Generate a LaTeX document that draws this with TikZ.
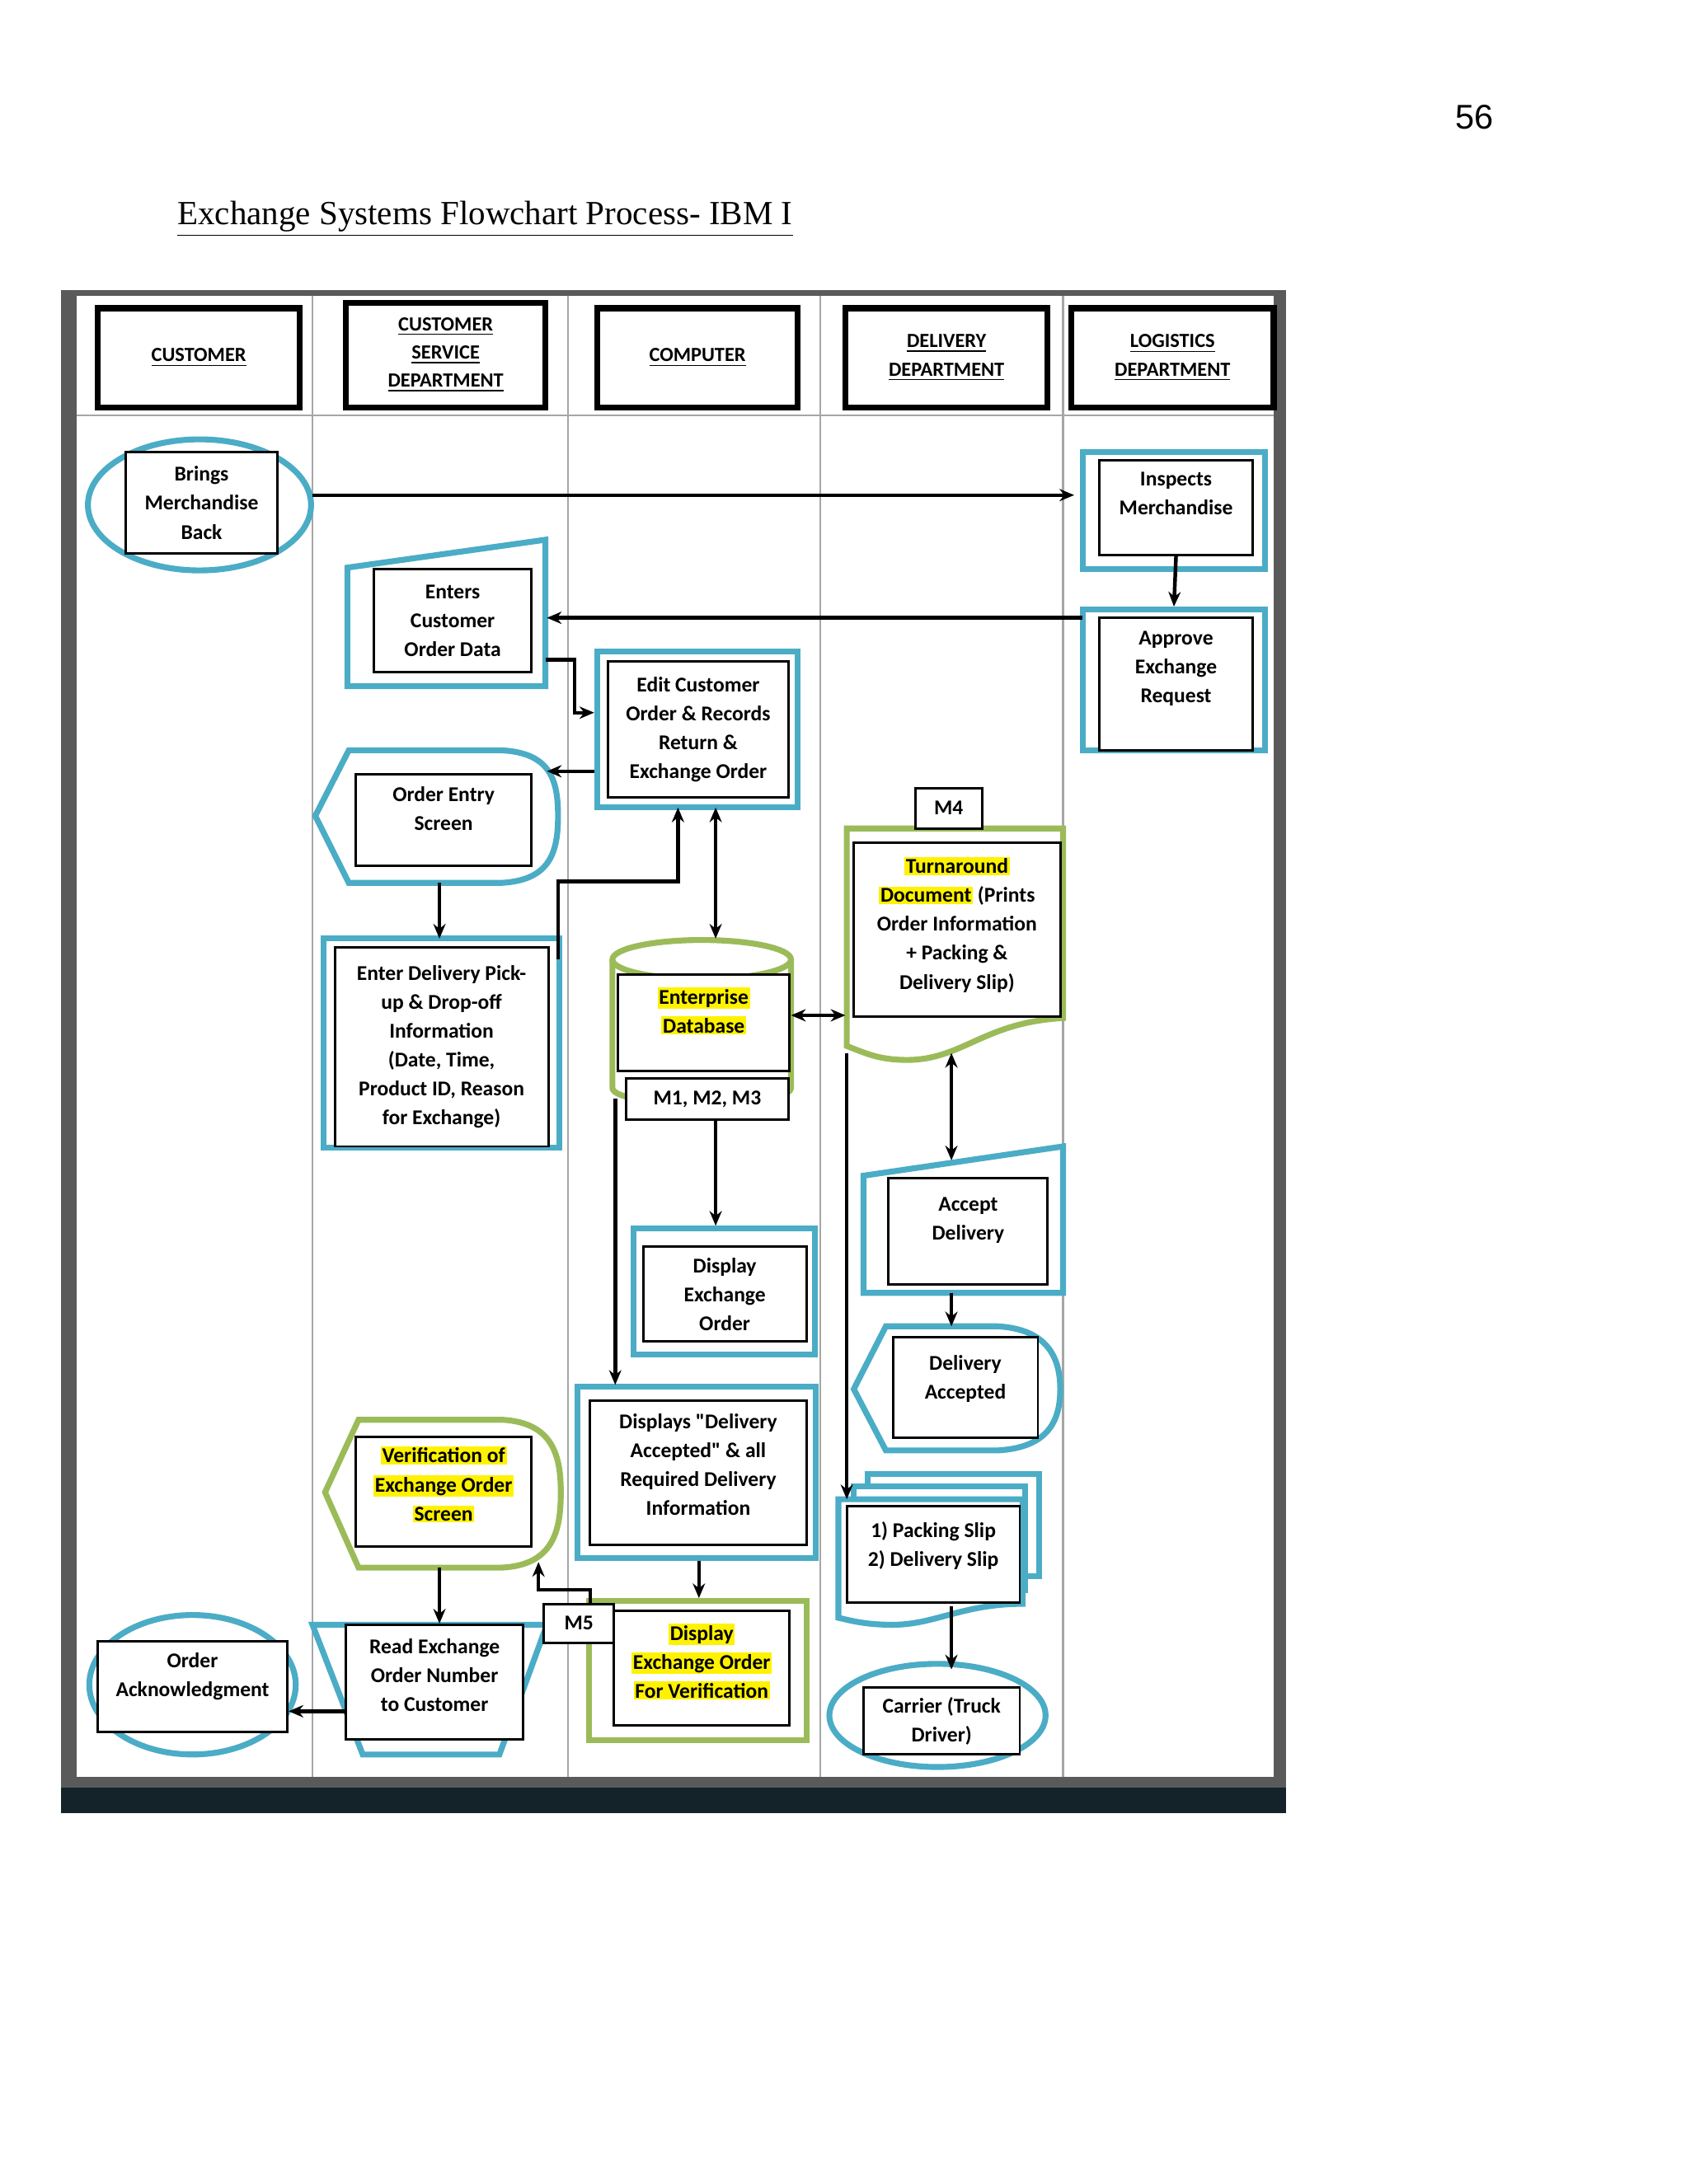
\documentclass[tikz,border=0pt]{standalone}
\usepackage{fontspec}
\setmainfont{Carlito}
\newfontfamily\serifff{Liberation Serif}
\newfontfamily\arialff{Liberation Sans}
\usetikzlibrary{arrows.meta,calc,shapes.geometric}
\definecolor{teal1}{HTML}{4BACC6}
\definecolor{grn1}{HTML}{9BBB59}
\definecolor{frame1}{HTML}{5A5A5A}
\definecolor{dark1}{HTML}{14232A}
\newcommand{\hy}[1]{{\setlength\fboxsep{0.6pt}\colorbox{yellow}{#1}}}
\begin{document}
\begin{tikzpicture}[x=0.02cm,y=-0.02cm,
  box/.style={draw,line width=1pt,fill=white,align=center,inner sep=1pt,font=\bfseries\fontsize{8.6}{11.8}\selectfont},
  hdr/.style={draw,line width=2.4pt,fill=white,align=center,inner sep=1pt,font=\bfseries\fontsize{8.2}{11.5}\selectfont},
  tl/.style={draw=teal1,line width=2.4pt,fill=white},
  gl/.style={draw=grn1,line width=2.4pt,fill=white},
  ar/.style={line width=1.5pt,-{Stealth[length=6pt,width=5pt]}},
  dar/.style={line width=1.5pt,{Stealth[length=6pt,width=5pt]}-{Stealth[length=6pt,width=5pt]}},
  lane/.style={draw=gray!70,line width=0.8pt}]
\useasboundingbox (0,0) rectangle (1211,1566);
\fill[white] (0,0) rectangle (1211,1566);
% page number and title
\node[font=\arialff\fontsize{14}{16}\selectfont] (pg) at (1057,84) {56};
\node[anchor=west,font=\serifff\fontsize{13.8}{16}\selectfont] (title) at (121,157) {\underline{Exchange Systems Flowchart Process- IBM I}};
% frame
\fill[frame1] (44,208) rectangle (922,1282);
\fill[dark1] (44,1282) rectangle (922,1300);
\fill[white] (55,212) rectangle (913,1274);
\foreach \x in {224,407,588,762} \draw[lane] (\x,212) -- (\x,1274);
\draw[lane] (55,298) -- (913,298);
% headers
\node[hdr,minimum width=2.9cm,minimum height=1.42cm] (h1) at (142.5,256.5) {\underline{CUSTOMER}};
\node[hdr,minimum width=2.86cm,minimum height=1.5cm] (h2) at (319.5,254.5) {\underline{CUSTOMER}\\\underline{SERVICE}\\\underline{DEPARTMENT}};
\node[hdr,minimum width=2.88cm,minimum height=1.42cm] (h3) at (500,256.5) {\underline{COMPUTER}};
\node[hdr,minimum width=2.9cm,minimum height=1.42cm] (h4) at (678.5,256.5) {\underline{DELIVERY}\\\underline{DEPARTMENT}};
\node[hdr,minimum width=2.9cm,minimum height=1.42cm] (h5) at (840.5,256.5) {\underline{LOGISTICS}\\\underline{DEPARTMENT}};
% ---- teal / green outer shapes
\node[tl,ellipse,minimum width=3.2cm,minimum height=1.88cm] (bringsE) at (143,362) {};
\node[tl,rectangle,minimum width=2.62cm,minimum height=1.68cm] (inspT) at (841.5,366) {};
\node[tl,rectangle,minimum width=2.62cm,minimum height=2.02cm] (apprT) at (841.5,487.5) {};
\draw[tl] (249,407) -- (391,387) -- (391,492) -- (249,492) -- cycle;
\node[tl,rectangle,minimum width=2.88cm,minimum height=2.24cm] (editT) at (500,523) {};
\draw[tl] (226,585) -- (250,538) -- (360,538) .. controls (395,540) and (400,560) .. (400,585) .. controls (400,610) and (395,631) .. (360,633) -- (250,633) -- cycle;
\node[tl,rectangle,minimum width=3.38cm,minimum height=3.0cm] (enterT) at (316.5,748) {};
% database cylinder
\draw[gl] (439,688) -- (439,780) .. controls (439,795) and (567,795) .. (567,780) -- (567,688);
\draw[gl] (503,688) ellipse [x radius=64,y radius=14];
\node[tl,rectangle,minimum width=2.6cm,minimum height=1.8cm] (dispexT) at (519,926) {};
\node[tl,rectangle,minimum width=3.42cm,minimum height=2.46cm] (dispdelT) at (499.5,1055.5) {};
\node[gl,rectangle,minimum width=3.12cm,minimum height=2.0cm] (dispverT) at (500,1198) {};
\draw[gl] (233,1070) -- (257,1018) -- (360,1018) .. controls (397,1020) and (402,1045) .. (402,1070) .. controls (402,1097) and (397,1122) .. (360,1124) -- (257,1124) -- cycle;
\draw[tl] (224,1165) -- (392,1165) -- (358,1258) -- (260,1258) -- cycle;
\node[tl,ellipse,minimum width=2.96cm,minimum height=2.0cm] (ackE) at (138,1208) {};
% turnaround document
\draw[gl] (607,594) -- (762,594) -- (762,730) .. controls (705,733) and (690,760) .. (650,760) .. controls (630,760) and (620,755) .. (607,750) -- cycle;
\draw[tl] (619,843) -- (762,822) -- (762,927) -- (619,927) -- cycle;
\draw[tl] (612,996) -- (635,951) -- (715,951) .. controls (752,953) and (760,975) .. (760,996) .. controls (760,1018) and (752,1038) .. (715,1040) -- (635,1040) -- cycle;
\draw[tl] (622,1057) rectangle (745,1130);
\draw[tl] (612,1066) rectangle (735,1140);
\draw[tl] (601,1075) -- (733,1075) -- (733,1150) .. controls (690,1150) and (670,1165) .. (640,1165) .. controls (620,1165) and (610,1162) .. (601,1160) -- cycle;
\node[tl,ellipse,minimum width=3.1cm,minimum height=1.48cm] (carrierE) at (672,1230) {};
% ---- inner boxes
\node[box,minimum width=2.18cm,minimum height=1.46cm] (brings) at (144.5,360.5) {Brings\\Merchandise\\Back};
\node[box,minimum width=2.2cm,minimum height=1.36cm] (insp) at (843,364) {Inspects\\Merchandise\\[-0.2pt]};
\node[box,minimum width=2.2cm,minimum height=1.9cm] (appr) at (843,490.5) {Approve\\Exchange\\Request\\[2.4pt]};
\node[box,minimum width=2.26cm,minimum height=1.48cm] (enters) at (324.5,445) {Enters\\Customer\\Order Data};
\node[box,minimum width=2.58cm,minimum height=1.96cm] (edit) at (500.5,523) {Edit Customer\\Order \& Records\\Return \&\\Exchange Order};
\node[box,minimum width=2.52cm,minimum height=1.32cm] (oes) at (318,588) {Order Entry\\Screen\\[-2.6pt]};
\node[box,minimum width=3.06cm,minimum height=2.86cm] (enterdel) at (316.5,750.5) {Enter Delivery Pick-\\up \& Drop-off\\Information\\(Date, Time,\\Product ID, Reason\\for Exchange)};
\node[box,minimum width=2.46cm,minimum height=1.38cm] (db) at (504.5,733.5) {\hy{Enterprise}\\\hy{Database}\\[-1.4pt]};
\node[box,minimum width=2.32cm,minimum height=0.6cm] (m123) at (507,788) {M1, M2, M3};
\node[box,minimum width=2.34cm,minimum height=1.36cm] (dispex) at (519.5,928) {Display\\Exchange\\Order};
\node[box,minimum width=3.1cm,minimum height=2.08cm] (dispdel) at (500.5,1056) {Displays \textquotedbl Delivery\\Accepted\textquotedbl\ \& all\\Required Delivery\\Information\\[-5.3pt]};
\node[box,minimum width=2.52cm,minimum height=1.64cm] (dispver) at (503,1196) {\hy{Display}\\\hy{Exchange Order}\\\hy{For Verification}\\[-6pt]};
\node[box,minimum width=1.0cm,minimum height=0.56cm] (m5) at (415,1164) {M5};
\node[box,minimum width=2.52cm,minimum height=1.58cm] (verif) at (318,1069.5) {\hy{Verification of}\\\hy{Exchange Order}\\\hy{Screen}\\[-5.3pt]};
\node[box,minimum width=2.54cm,minimum height=1.64cm] (read) at (311.5,1206) {Read Exchange\\Order Number\\to Customer\\[-6pt]};
\node[box,minimum width=2.72cm,minimum height=1.3cm] (ack) at (138,1209.5) {Order\\Acknowledgment\\[-2pt]};
\node[box,minimum width=0.96cm,minimum height=0.58cm] (m4) at (680,579.5) {M4};
\node[box,minimum width=2.96cm,minimum height=2.5cm] (turn) at (686,666.5) {\hy{Turnaround}\\\hy{Document} (Prints\\Order Information\\+ Packing \&\\Delivery Slip)\\[-6.5pt]};
\node[box,minimum width=2.28cm,minimum height=1.52cm] (accept) at (694,883) {Accept\\Delivery\\[-1.4pt]};
\node[box,minimum width=2.08cm,minimum height=1.44cm] (delacc) at (692,995) {Delivery\\Accepted\\[-3pt]};
\node[box,minimum width=2.48cm,minimum height=1.38cm] (packing) at (669,1114.5) {1) Packing Slip\\2) Delivery Slip\\[-3.6pt]};
\node[box,minimum width=2.24cm,minimum height=0.96cm] (carrier) at (675,1234) {Carrier (Truck\\Driver)};
% named points
\coordinate (a1) at (224,355);
\coordinate (a1e) at (770,355);
\coordinate (entR) at (392,443);
\coordinate (apL) at (776,443);
\coordinate (oesR) at (392,553);
\coordinate (entO) at (391,473);
\coordinate (oesB) at (315,633);
\coordinate (enterTop) at (315,673);
\coordinate (enterR) at (400,688);
\coordinate (edB) at (486,579);
\coordinate (edB2) at (513,579);
\coordinate (dbT) at (513,673);
\coordinate (dbR) at (567,728);
\coordinate (tuL) at (606,728);
\coordinate (vA) at (441,788);
\coordinate (vB) at (441,993);
\coordinate (tuB) at (682,755);
\coordinate (acT) at (682,832);
\coordinate (tuL2) at (607,755);
\coordinate (pkT) at (607,1075);
\coordinate (verB) at (386,1120);
% connectors
\draw[ar] (a1) -- (a1e);
\draw[ar] (insp.south) -- (apprT.north);
\draw[ar] (apL) -- (entR);
\draw[ar] (entO) -| (412,511) -- (editT.west |- 0,511);
\draw[ar] (editT.west |- oesR) -- (oesR);
\draw[ar] (oesB) -- (enterTop);
\draw[ar] (enterR) -- (400,632) -| (edB);
\draw[dar] (edB2) -- (dbT);
\draw[dar] (dbR) -- (tuL);
\draw[ar] (m123.south -| 513,0) -- (dispexT.north -| 513,0);
\draw[ar] (vA) -- (vB);
\draw[ar] (dispdelT.south -| 501,0) -- (dispverT.north -| 501,0);
\draw[ar] (m5.north -| 423,0) -- (423,1140) -- (386,1140) -- (verB);
\draw[ar] (315,1124) -- (read.north -| 315,0);
\draw[ar] (read.west |- 0,1227) -- (ack.east |- 0,1227);
\draw[dar] (tuB) -- (acT);
\draw[ar] (tuL2) -- (pkT);
\draw[ar] (682,927) -- (682,951);
\draw[ar] (682,1152) -- (682,1197);
\end{tikzpicture}
\end{document}
